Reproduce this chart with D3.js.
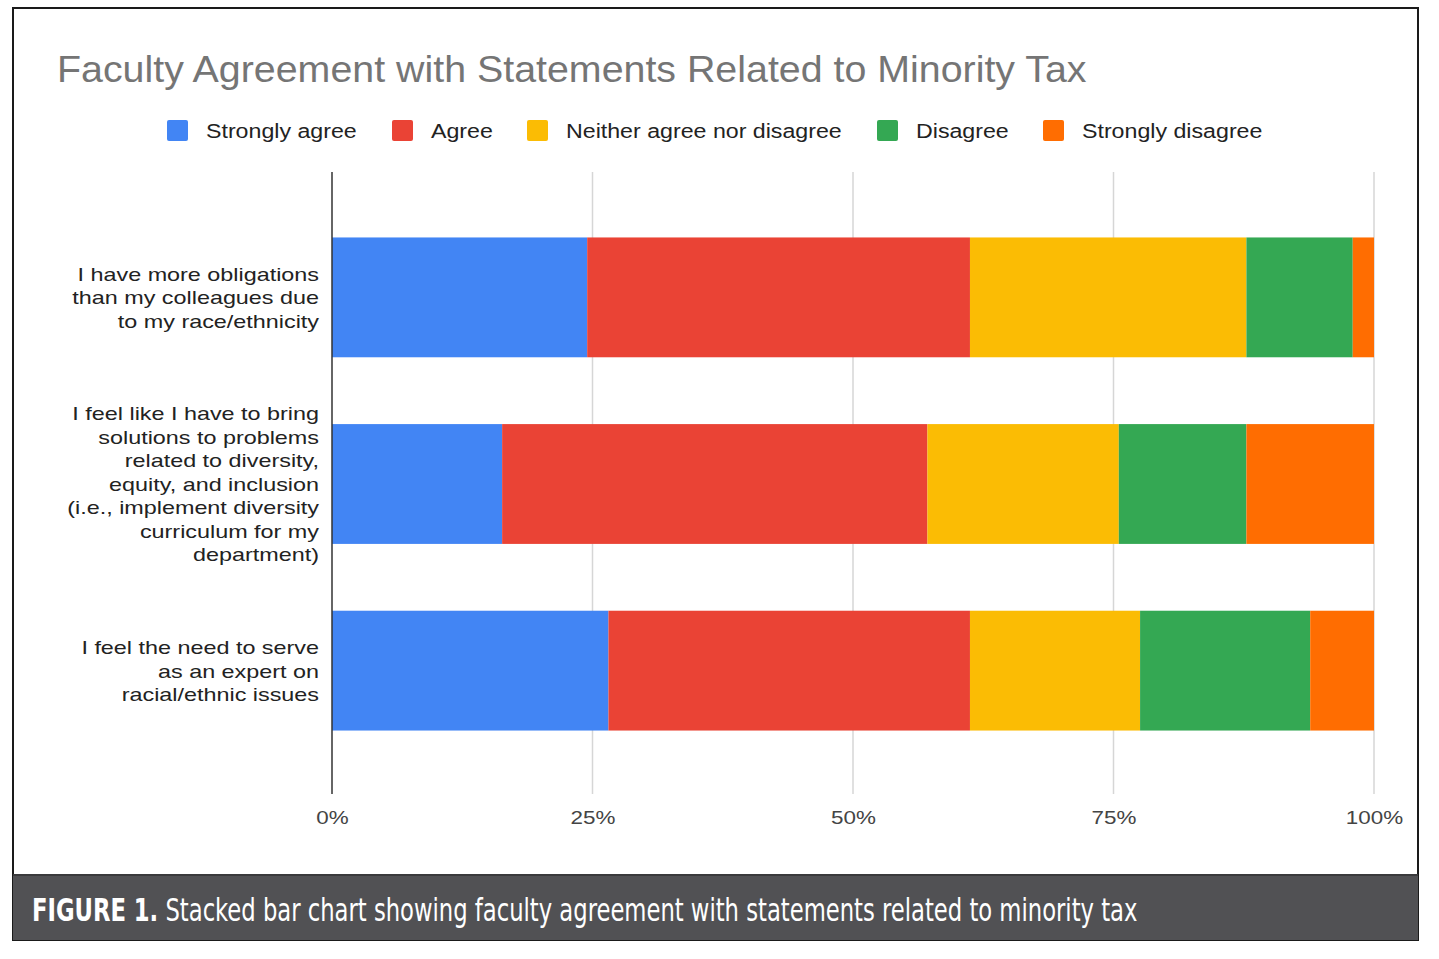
<!DOCTYPE html>
<html>
<head>
<meta charset="utf-8">
<script src="https://cdn.jsdelivr.net/npm/d3@7"></script>
<style>
  html, body { margin: 0; padding: 0; background: #fff; }
  svg { display: block; font-family: 'Liberation Sans', Arial, sans-serif; }
</style>
</head>
<body>
<svg id="chart" width="1439" height="959"></svg>
<script>
// responses per statement (counts of respondents, n = 49)
const statements = [
  'I have more obligations than my colleagues due to my race/ethnicity',
  'I feel like I have to bring solutions to problems related to diversity, equity, and inclusion (i.e., implement diversity curriculum for my department)',
  'I feel the need to serve as an expert on racial/ethnic issues'
]
const statementLines = [
  ['I have more obligations', 'than my colleagues due', 'to my race/ethnicity'],
  ['I feel like I have to bring', 'solutions to problems', 'related to diversity,', 'equity, and inclusion', '(i.e., implement diversity', 'curriculum for my', 'department)'],
  ['I feel the need to serve', 'as an expert on', 'racial/ethnic issues']
]
const responses = ['Strongly agree', 'Agree', 'Neither agree nor disagree', 'Disagree', 'Strongly disagree']
const stronglyAgree = [12, 8, 13]
const agree = [18, 20, 17]
const neither = [13, 9, 8]
const disagree = [5, 6, 8]
const stronglyDisagree = [1, 6, 3]
const tickValues = [0, 0.25, 0.5, 0.75, 1]

const colors = ['#4285f4', '#ea4335', '#fbbc04', '#34a853', '#ff6d01']
const series = [stronglyAgree, agree, neither, disagree, stronglyDisagree]

const rows = statements.map((s, i) => {
  const row = { statement: s }
  responses.forEach((r, j) => { row[r] = series[j][i] })
  return row
})

// the scanned chart is wider than the font, so stretch glyphs horizontally
// about the text's own x position
function stretch (sel, k) {
  sel.each(function () {
    const el = d3.select(this)
    const x0 = +el.attr('x') || 0
    el.attr('transform', `translate(${x0},0) scale(${k},1) translate(${-x0},0)`)
  })
}

// stretch a single text to a given printed width
function fitTo (sel, w) {
  const natural = sel.node().getComputedTextLength()
  sel.call(stretch, w / natural)
}

const svg = d3.select('#chart')

// outer frame
svg.append('rect')
  .attr('x', 13).attr('y', 8)
  .attr('width', 1405).attr('height', 932)
  .attr('fill', '#fff')
  .attr('stroke', '#1a1a1a')
  .attr('stroke-width', 2)

// title
svg.append('text')
  .attr('x', 57)
  .attr('y', 82)
  .attr('fill', '#757575')
  .style('font-size', '37px')
  .text('Faculty Agreement with Statements Related to Minority Tax')
  .call(fitTo, 1030)

// legend
const legendX = [167, 392, 527, 877, 1043]
const legend = svg.selectAll('.legend')
  .data(responses)
  .enter()
  .append('g')
  .attr('class', 'legend')
  .attr('transform', (d, i) => `translate(${legendX[i]},120)`)

legend.append('rect')
  .attr('width', 21)
  .attr('height', 21)
  .attr('rx', 2)
  .attr('fill', (d, i) => colors[i])

legend.append('text')
  .attr('x', 39)
  .attr('y', 18)
  .attr('fill', '#222')
  .style('font-size', '20px')
  .text(d => d)
  .call(stretch, 1.16)

// scales
const x = d3.scaleLinear().domain([0, 1]).range([332, 1374])
const y = d3.scaleBand()
  .domain(statements)
  .range([172, 792])
  .paddingInner(0.358)
  .paddingOuter(0.34)

// grid
svg.append('g')
  .selectAll('line')
  .data(tickValues.slice(1))
  .enter()
  .append('line')
  .attr('x1', d => x(d)).attr('x2', d => x(d))
  .attr('y1', 172).attr('y2', 794)
  .attr('stroke', '#d6d6d6')
  .attr('stroke-width', 1.5)

// bars
const stack = d3.stack().keys(responses).offset(d3.stackOffsetExpand)
const layers = stack(rows)

svg.append('g')
  .selectAll('g')
  .data(layers)
  .enter()
  .append('g')
  .attr('fill', (d, i) => colors[i])
  .selectAll('rect')
  .data(d => d)
  .enter()
  .append('rect')
  .attr('x', d => x(d[0]))
  .attr('width', d => x(d[1]) - x(d[0]))
  .attr('y', d => y(d.data.statement) + 2)
  .attr('height', y.bandwidth())

// baseline
svg.append('line')
  .attr('x1', x(0)).attr('x2', x(0))
  .attr('y1', 172).attr('y2', 794)
  .attr('stroke', '#333')
  .attr('stroke-width', 1.5)

// x axis tick labels
const xAxis = d3.axisBottom(x)
  .tickValues(tickValues)
  .tickFormat(d3.format('.0%'))
  .tickSize(0)
  .tickPadding(0)

const gx = svg.append('g')
  .attr('transform', 'translate(0,810)')
  .call(xAxis)
gx.select('.domain').remove()
gx.selectAll('text')
  .attr('fill', '#444')
  .style('font-size', '19px')
  .style('font-family', "'Liberation Sans', Arial, sans-serif")
  .call(stretch, 1.18)

// category labels, one text per line
const lineH = 23.5
statements.forEach((d, i) => {
  const lines = statementLines[i]
  const cy = y(d) + 2 + y.bandwidth() / 2
  const top = cy - (lines.length - 1) * lineH / 2 + 7
  svg.append('g')
    .selectAll('text')
    .data(lines)
    .enter()
    .append('text')
    .attr('x', 319)
    .attr('y', (l, k) => top + k * lineH)
    .attr('text-anchor', 'end')
    .attr('fill', '#222')
    .style('font-size', '19px')
    .text(l => l)
    .call(stretch, 1.23)
})

// caption bar
svg.append('rect')
  .attr('x', 13).attr('y', 874)
  .attr('width', 1405).attr('height', 66)
  .attr('fill', '#515154')
svg.append('line')
  .attr('x1', 13).attr('x2', 1418)
  .attr('y1', 875).attr('y2', 875)
  .attr('stroke', '#3a3a3c')
  .attr('stroke-width', 2)

const caption = svg.append('text')
  .attr('x', 32)
  .attr('y', 921)
  .attr('fill', '#fff')
  .style('font-family', "'Liberation Sans Narrow', 'DejaVu Sans Condensed', 'Liberation Sans', sans-serif")
  .style('font-size', '32px')
caption.append('tspan')
  .style('font-weight', 'bold')
  .text('FIGURE 1.')
caption.append('tspan')
  .text(' Stacked bar chart showing faculty agreement with statements related to minority tax')

// fit the caption to the printed width
caption.call(fitTo, 1106)
</script>
</body>
</html>
